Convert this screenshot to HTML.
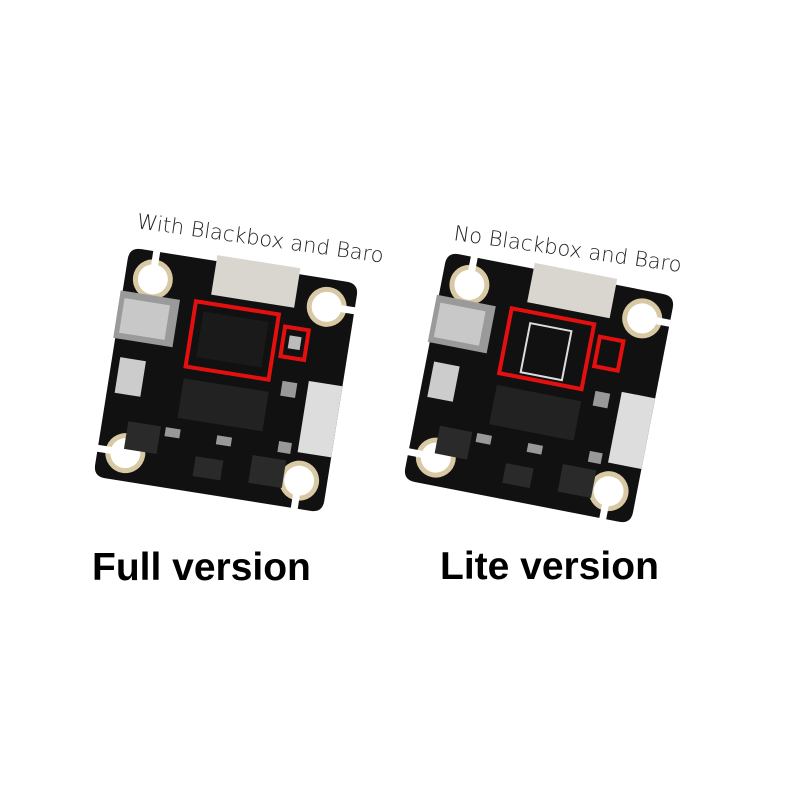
<!DOCTYPE html>
<html><head><style>
body{margin:0;background:#fff;width:800px;height:800px;overflow:hidden}
svg{display:block}
</style></head><body>
<svg width="800" height="800" viewBox="0 0 800 800">
<defs>
<g id="board">
  <path d="M-104,-116 L104,-116 Q116,-116 116,-104 L116,104 Q116,116 104,116 L-104,116 Q-116,116 -116,104 L-116,-104 Q-116,-116 -104,-116Z" fill="#111"/>
  <g fill="#d8c9a4"><circle cx="-88" cy="-88" r="20"/><circle cx="88" cy="-88" r="20"/><circle cx="-88" cy="88" r="20"/><circle cx="88" cy="88" r="20"/></g>
  <g fill="#fff"><circle cx="-88" cy="-88" r="15"/><circle cx="88" cy="-88" r="15"/><circle cx="-88" cy="88" r="15"/><circle cx="88" cy="88" r="15"/></g>
  <g fill="#fff"><rect x="98" y="-92" width="22" height="7"/><rect x="-120" y="84" width="22" height="7"/><rect x="84" y="98" width="7" height="22"/><rect x="-92" y="-120" width="7" height="22"/></g>
  <rect x="-28" y="-122" width="84" height="40" fill="#d9d6d0"/>
  <rect x="-118" y="-72" width="60" height="48" fill="#9a9a9a"/>
  <rect x="-113" y="-65" width="46" height="35" fill="#c8c8c8"/>
  <rect x="82" y="-12" width="34" height="72" fill="#ddd"/>
  <rect x="-108" y="-6" width="26" height="36" fill="#ccc"/>
  <rect x="-42" y="5" width="86" height="40" fill="#222"/>
  <g fill="#999"><rect x="56" y="-8" width="15" height="15"/><rect x="-52" y="56" width="15" height="9"/><rect x="0" y="56" width="15" height="9"/><rect x="62" y="52" width="13" height="11"/></g>
  <g fill="#2a2a2a"><rect x="-90" y="56" width="33" height="28"/><rect x="38" y="70" width="34" height="28"/><rect x="-18" y="80" width="28" height="20"/></g>
</g>
</defs>

<g transform="translate(226,380) rotate(9)">
  <use href="#board"/>
  <rect x="-33" y="-64" width="66" height="46" fill="#1a1a1a"/>
  <rect x="-42" y="-73" width="84" height="66" fill="none" stroke="#e41010" stroke-width="4"/>
  <rect x="50" y="-62" width="24" height="30" fill="none" stroke="#e41010" stroke-width="4"/>
  <rect x="56" y="-54" width="12" height="13" fill="#bbb"/>
</g>

<g transform="translate(539,388) rotate(11)">
  <use href="#board"/>
  <rect x="-21" y="-62" width="42" height="50" fill="none" stroke="#ddd" stroke-width="2"/>
  <rect x="-42" y="-73" width="84" height="66" fill="none" stroke="#e41010" stroke-width="4"/>
  <rect x="50" y="-62" width="24" height="30" fill="none" stroke="#e41010" stroke-width="4"/>
</g>

<text transform="translate(136,228) rotate(8)" font-family="DejaVu Sans, sans-serif" font-size="21" font-weight="300" fill="#222">With Blackbox and Baro</text>
<text transform="translate(453,240) rotate(8)" font-family="DejaVu Sans, sans-serif" font-size="21" font-weight="300" fill="#222">No Blackbox and Baro</text>

<text x="92" y="580" font-family="Liberation Sans, sans-serif" font-weight="bold" font-size="39" fill="#000">Full version</text>
<text x="440" y="579" font-family="Liberation Sans, sans-serif" font-weight="bold" font-size="39" fill="#000">Lite version</text>
</svg>
</body></html>
